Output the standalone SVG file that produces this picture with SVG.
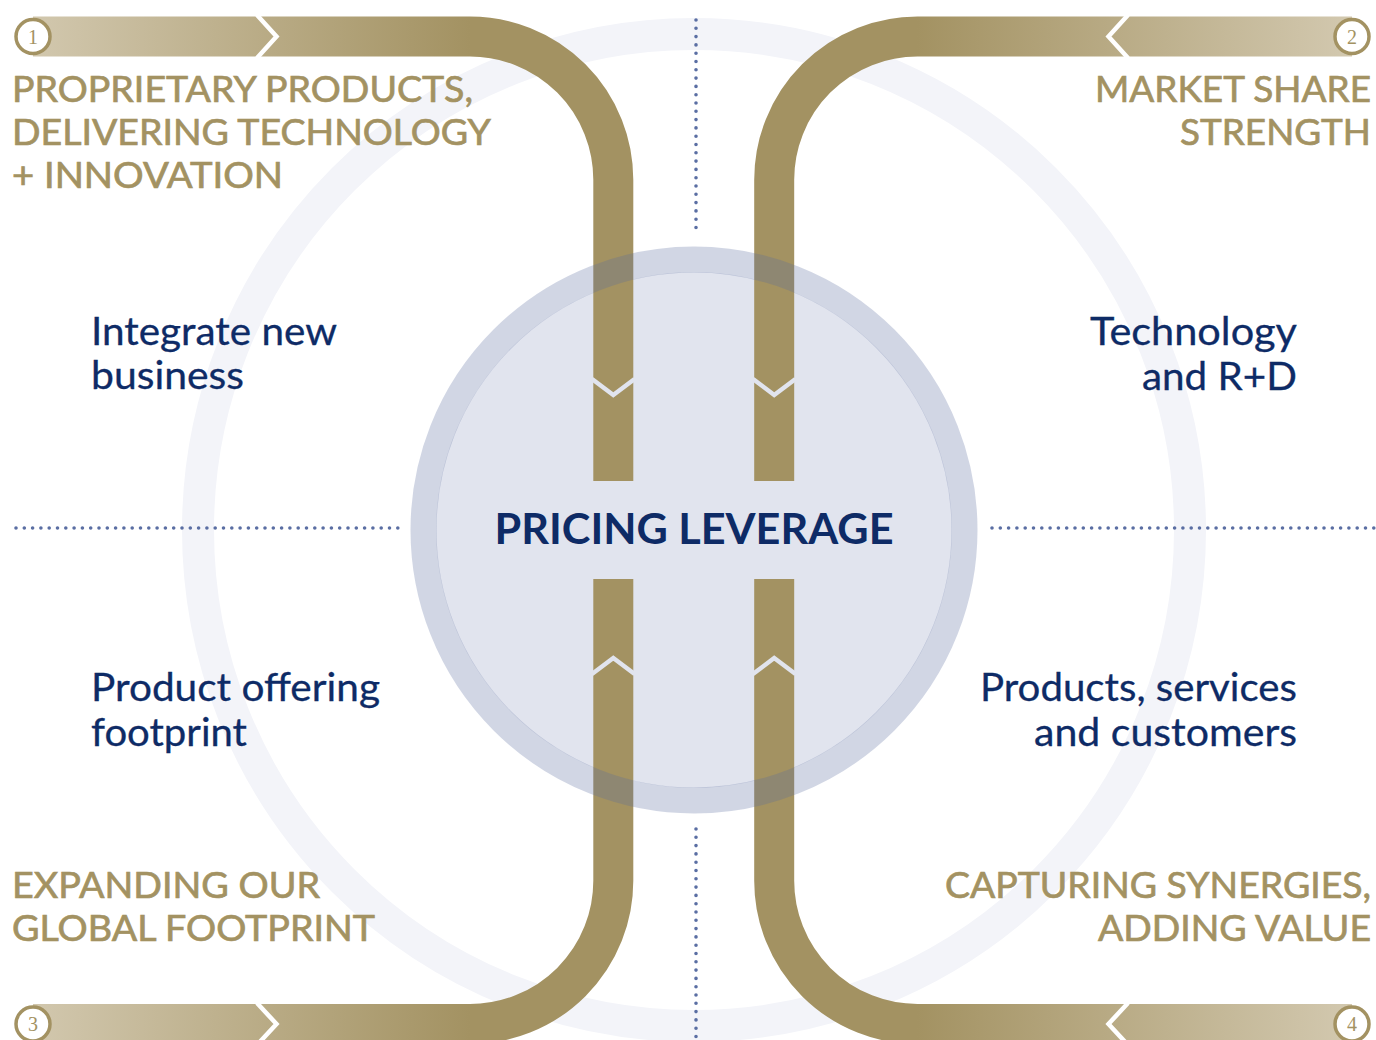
<svg xmlns="http://www.w3.org/2000/svg" width="1376" height="1040" viewBox="0 0 1376 1040">
  <defs>
    <linearGradient id="goldL" gradientUnits="userSpaceOnUse" x1="20" y1="0" x2="470" y2="0">
      <stop offset="0" stop-color="#d3c9b0"/>
      <stop offset="1" stop-color="#a39262"/>
    </linearGradient>
    <linearGradient id="goldR" gradientUnits="userSpaceOnUse" x1="1356" y1="0" x2="917" y2="0">
      <stop offset="0" stop-color="#d3c9b0"/>
      <stop offset="1" stop-color="#a39262"/>
    </linearGradient>
    <style>
      .band { fill: none; stroke-width: 40; }
      .notch { fill: none; stroke: #ffffff; stroke-width: 4.5; stroke-linejoin: miter; }
      .notch-in { fill: none; stroke: #e1e4ee; stroke-width: 4.5; stroke-linejoin: miter; }
      .dots { fill: none; stroke: #5a6ea3; stroke-width: 3.6; stroke-linecap: round; stroke-dasharray: 0 8.3; }
      .head { font-family: Lato, "Liberation Sans", sans-serif; font-size: 36px; fill: #a39262; stroke: #a39262; stroke-width: 0.7; }
      .sub { font-family: Lato, "Liberation Sans", sans-serif; font-size: 38px; fill: #0e2b66; stroke: #0e2b66; stroke-width: 0.3; }
      .badge circle { fill: #ffffff; stroke: #a39262; stroke-width: 3.5; }
      .badge text { font-family: "Liberation Serif", serif; font-size: 20px; fill: #a39262; text-anchor: middle; }
    </style>
  </defs>

  <rect width="1376" height="1040" fill="#ffffff"/>

  <!-- faint outer orbit -->
  <circle cx="694" cy="530" r="496" fill="none" stroke="#f3f4f9" stroke-width="32"/>

  <!-- dotted quadrant dividers -->
  <g id="dividers">
    <line class="dots" x1="696" y1="20" x2="696" y2="233"/>
    <line class="dots" x1="696" y1="829" x2="696" y2="1040"/>
    <line class="dots" x1="16" y1="528" x2="400" y2="528"/>
    <line class="dots" x1="992" y1="528" x2="1376" y2="528"/>
  </g>

  <!-- central disc -->
  <circle id="core-fill" cx="694" cy="530" r="258" fill="#e1e4ee"/>

  <!-- connectors: the four gold bands flowing into the centre -->
  <g id="connectors">
    <path class="band" stroke="url(#goldL)" d="M33 36.5 H470 A143.3 143.3 0 0 1 613.3 179.8 V481"/>
    <path class="band" stroke="url(#goldR)" d="M1352 36.5 H917.5 A143.3 143.3 0 0 0 774.2 179.8 V481"/>
    <path class="band" stroke="url(#goldL)" d="M33 1024 H470 A143.3 143.3 0 0 0 613.3 880.7 V579"/>
    <path class="band" stroke="url(#goldR)" d="M1352 1024 H917.5 A143.3 143.3 0 0 1 774.2 880.7 V579"/>

    <polyline class="notch" points="257,15 276.5,36.5 257,58"/>
    <polyline class="notch" points="1128,15 1108.5,36.5 1128,58"/>
    <polyline class="notch" points="257,1003 276.5,1024 257,1045"/>
    <polyline class="notch" points="1128,1003 1108.5,1024 1128,1045"/>

    <polyline class="notch-in" points="592,379 613.3,395 634.6,379"/>
    <polyline class="notch-in" points="753,379 774.2,395 795.5,379"/>
    <polyline class="notch-in" points="592,674 613.3,658 634.6,674"/>
    <polyline class="notch-in" points="753,674 774.2,658 795.5,674"/>
  </g>

  <!-- translucent rim of the central disc -->
  <circle id="core-rim" cx="694" cy="530" r="270.5" fill="none" stroke="#5a6b9e" stroke-opacity="0.28" stroke-width="26"/>

  <g id="center">
    <text x="694" y="544" text-anchor="middle" font-family="Lato, 'Liberation Sans', sans-serif" font-size="42" font-weight="700" fill="#0e2b66" textLength="399" lengthAdjust="spacingAndGlyphs">PRICING LEVERAGE</text>
  </g>

  <g id="node-1">
    <g class="badge"><circle cx="33" cy="36.5" r="17"/><text x="33" y="43.5">1</text></g>
    <text class="head" x="12" y="102" textLength="461" lengthAdjust="spacingAndGlyphs">PROPRIETARY PRODUCTS,</text>
    <text class="head" x="12" y="145" textLength="479" lengthAdjust="spacingAndGlyphs">DELIVERING TECHNOLOGY</text>
    <text class="head" x="12" y="188" textLength="271" lengthAdjust="spacingAndGlyphs">+ INNOVATION</text>
    <text class="sub" x="91" y="345" textLength="246" lengthAdjust="spacingAndGlyphs">Integrate new</text>
    <text class="sub" x="91" y="389" textLength="153" lengthAdjust="spacingAndGlyphs">business</text>
  </g>

  <g id="node-2">
    <g class="badge"><circle cx="1352" cy="36.5" r="17"/><text x="1352" y="43.5">2</text></g>
    <text class="head" x="1371" y="102" text-anchor="end" textLength="276" lengthAdjust="spacingAndGlyphs">MARKET SHARE</text>
    <text class="head" x="1371" y="145" text-anchor="end" textLength="191" lengthAdjust="spacingAndGlyphs">STRENGTH</text>
    <text class="sub" x="1297" y="345" text-anchor="end" textLength="207" lengthAdjust="spacingAndGlyphs">Technology</text>
    <text class="sub" x="1297" y="390" text-anchor="end" textLength="155" lengthAdjust="spacingAndGlyphs">and R+D</text>
  </g>

  <g id="node-3">
    <g class="badge"><circle cx="33" cy="1024" r="17"/><text x="33" y="1031">3</text></g>
    <text class="head" x="12" y="898" textLength="308" lengthAdjust="spacingAndGlyphs">EXPANDING OUR</text>
    <text class="head" x="12" y="941" textLength="363" lengthAdjust="spacingAndGlyphs">GLOBAL FOOTPRINT</text>
    <text class="sub" x="91" y="701" textLength="289" lengthAdjust="spacingAndGlyphs">Product offering</text>
    <text class="sub" x="91" y="746" textLength="156" lengthAdjust="spacingAndGlyphs">footprint</text>
  </g>

  <g id="node-4">
    <g class="badge"><circle cx="1352" cy="1024" r="17"/><text x="1352" y="1031">4</text></g>
    <text class="head" x="1371" y="898" text-anchor="end" textLength="426" lengthAdjust="spacingAndGlyphs">CAPTURING SYNERGIES,</text>
    <text class="head" x="1371" y="941" text-anchor="end" textLength="273" lengthAdjust="spacingAndGlyphs">ADDING VALUE</text>
    <text class="sub" x="1297" y="701" text-anchor="end" textLength="317" lengthAdjust="spacingAndGlyphs">Products, services</text>
    <text class="sub" x="1297" y="746" text-anchor="end" textLength="263" lengthAdjust="spacingAndGlyphs">and customers</text>
  </g>
</svg>
